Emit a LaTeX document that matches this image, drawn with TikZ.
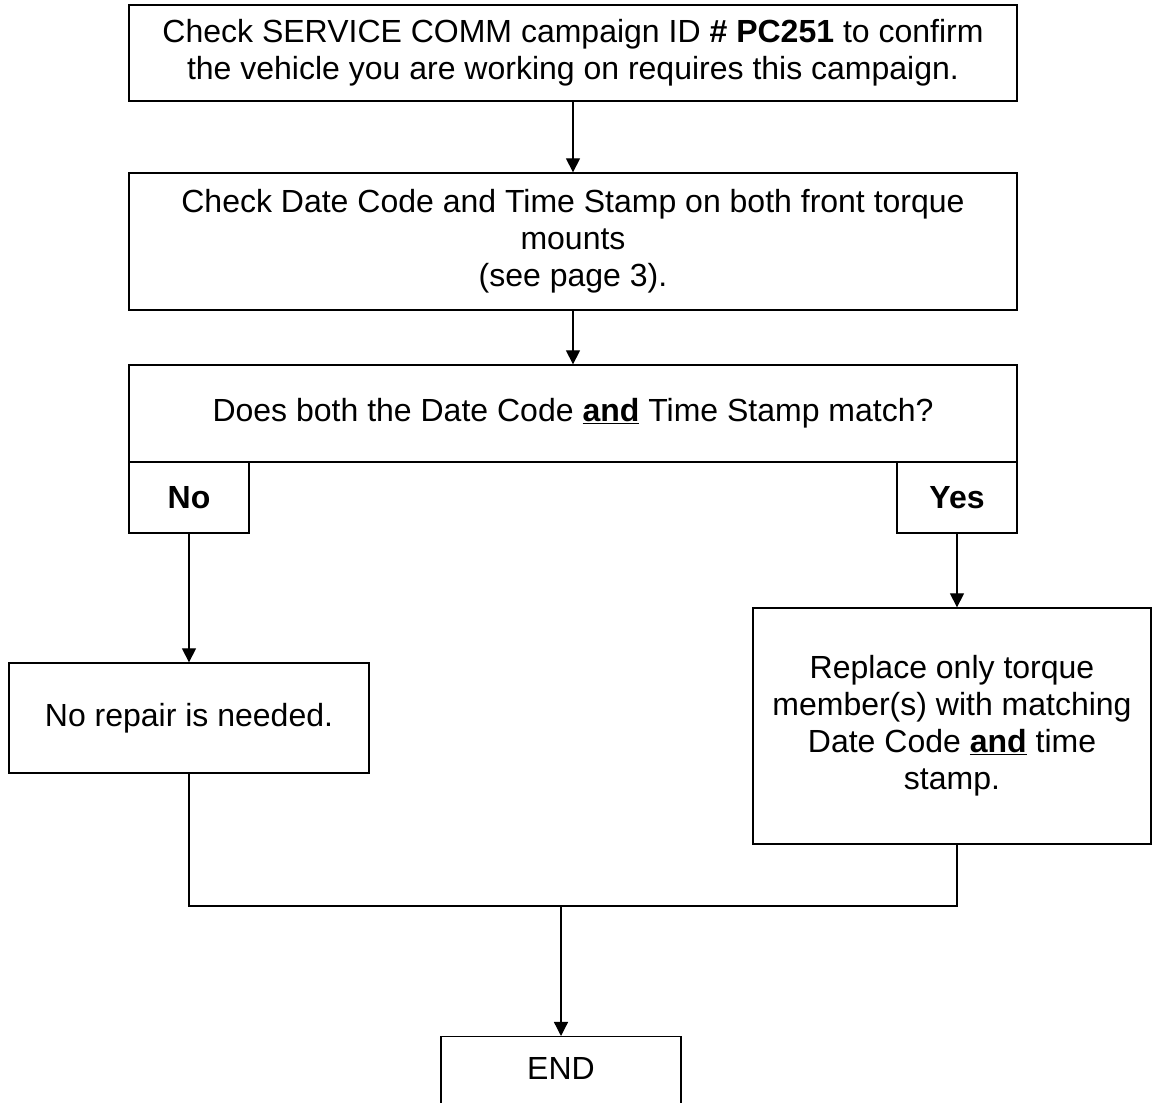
\documentclass[tikz,border=0pt]{standalone}
\usepackage{fontspec}
\setmainfont{Liberation Sans}
\usepackage{tikz}
\usetikzlibrary{arrows.meta}

\tikzset{
  flowbox/.style={draw,line width=1.3pt,align=center,inner sep=0pt,
    font=\fontsize{32pt}{37pt}\selectfont},
  flowarrow/.style={line width=1.3pt,-{Triangle[width=14pt,length=14pt]}},
  flowline/.style={line width=1.3pt}
}

\begin{document}
\begin{tikzpicture}[x=1pt,y=1pt]
\useasboundingbox (0,0) rectangle (1152,1103);

\node[
  flowbox,
  minimum width=888pt,
  minimum height=96pt
] (campaign) at (573,1050) {Check SERVICE COMM campaign ID \textbf{\# PC251} to confirm\\the vehicle you are working on requires this campaign.};
\node[
  flowbox,
  minimum width=888pt,
  minimum height=137pt
] (datecode) at (573,861.5) {Check Date Code and Time Stamp on both front torque\\mounts\\(see page 3).};
\node[
  flowbox,
  minimum width=888pt,
  minimum height=97pt
] (match) at (573,689.5) {Does both the Date Code \textbf{\underline{and}} Time Stamp match?};
\node[
  flowbox,
  minimum width=120pt,
  minimum height=71pt
] (no) at (189,605.5) {\textbf{No}};
\node[
  flowbox,
  minimum width=120pt,
  minimum height=71pt
] (yes) at (957,605.5) {\textbf{Yes}};
\node[
  flowbox,
  minimum width=360pt,
  minimum height=110pt
] (norepair) at (189,385) {No repair is needed.};
\node[
  flowbox,
  minimum width=398pt,
  minimum height=236pt
] (replace) at (952,377) {Replace only torque\\member(s) with matching\\Date Code \textbf{\underline{and}} time\\stamp.};
% box runs off the page at the bottom
\node[
  flowbox,
  anchor=north,
  minimum width=240pt,
  text height=42.5pt,
  text depth=44.5pt
] (end) at (561,67) {END};

\coordinate (join) at (561,197);

\draw[flowarrow] (campaign) -- (datecode);
\draw[flowarrow] (datecode) -- (match);
\draw[flowarrow] (no) -- (norepair);
\draw[flowarrow] (yes.south) -- (yes.south |- replace.north);
\draw[flowline] (norepair.south) |- (join) -| (yes.south |- replace.south);
\draw[flowarrow] (join) -- (end);
\end{tikzpicture}
\end{document}
